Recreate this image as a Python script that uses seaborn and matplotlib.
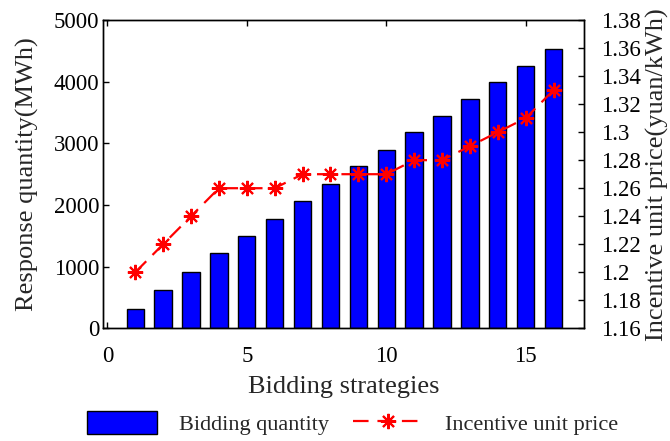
import matplotlib
matplotlib.use('Agg')
import numpy as np
import pandas as pd
import matplotlib.pyplot as plt
import seaborn as sns
from matplotlib.ticker import FuncFormatter

# 数据
strategies = list(range(1, 17))
quantity = [320, 620, 910, 1225, 1500, 1780, 2060, 2340, 2640, 2900,
            3180, 3450, 3725, 4000, 4255, 4525]
price = [1.20, 1.22, 1.24, 1.26, 1.26, 1.26, 1.27, 1.27, 1.27, 1.27,
         1.28, 1.28, 1.29, 1.30, 1.31, 1.33]

df = pd.DataFrame({"strategy": strategies, "quantity": quantity, "price": price})

sns.set_theme(style="white")
plt.rcParams['font.family'] = ['Liberation Serif', 'DejaVu Serif']

fig = plt.figure(figsize=(6.7, 4.41), dpi=100)
ax = fig.add_axes([0.154, 0.2555, 0.718, 0.699])

sns.barplot(data=df, x="strategy", y="quantity", native_scale=True, width=0.62,
            color="#0000FF", saturation=1, edgecolor="black", linewidth=1.0,
            ax=ax, label="Bidding quantity")
if ax.get_legend() is not None:
    ax.get_legend().remove()

ax2 = ax.twinx()
sns.lineplot(data=df, x="strategy", y="price", ax=ax2, color="#FF0000",
             linewidth=1.6, marker=(8, 2, 0), markersize=11, markeredgewidth=1.5,
             markeredgecolor="#FF0000", dashes=False, label="Incentive unit price",
             legend=False)
ax2.lines[0].set_dashes([7, 4])

ax.set_xlim(-0.15, 17.1)
ax.set_ylim(0, 5000)
ax2.set_ylim(1.16, 1.38)
ax.set_xticks([0, 5, 10, 15])
ax.set_yticks([0, 1000, 2000, 3000, 4000, 5000])
ax2.set_yticks(np.arange(1.16, 1.3801, 0.02))
ax2.yaxis.set_major_formatter(FuncFormatter(lambda v, p: f"{v:.2f}".rstrip('0').rstrip('.')))

ax.set_xlabel("Bidding strategies", fontsize=19, labelpad=6)
ax.set_ylabel("Response quantity(MWh)", fontsize=19, labelpad=10)
ax2.set_ylabel("Incentive unit price(yuan/kWh)", fontsize=19, labelpad=4)

for a in (ax, ax2):
    for s in a.spines.values():
        s.set_visible(True)
        s.set_color("black")
        s.set_linewidth(1.0)
ax.tick_params(axis='x', direction='in', length=4, width=1, labelsize=16.5,
               top=True, bottom=True, colors='black', pad=13)
ax.tick_params(axis='y', direction='in', length=4, width=1, labelsize=16.5,
               left=True, right=False, colors='black', pad=3)
ax2.tick_params(axis='y', direction='in', length=4, width=1, labelsize=16.5,
                right=True, colors='black', pad=12)
ax.grid(False)
ax2.grid(False)

h1, l1 = ax.get_legend_handles_labels()
h2, l2 = ax2.get_legend_handles_labels()
fig.legend(h1[:1] + h2, l1[:1] + l2, loc="center", bbox_to_anchor=(0.526, 0.04),
           ncol=2, frameon=False, fontsize=16, handlelength=3.15, handleheight=1.2,
           handletextpad=1.0, columnspacing=1.05)

fig.savefig("out.png", dpi=100)
